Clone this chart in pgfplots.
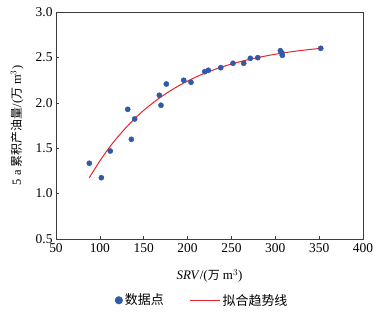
\documentclass[border=0pt]{standalone}
\usepackage{fontspec}
\setmainfont{Liberation Serif}
\newfontfamily\cjk{Noto Sans CJK SC}
\usepackage{pgfplots}
\pgfplotsset{compat=1.18}
\definecolor{ptblue}{RGB}{46,90,168}
\definecolor{fitred}{RGB}{232,36,42}
\definecolor{axgray}{RGB}{60,60,60}
\begin{document}
\begin{tikzpicture}
\path[use as bounding box] (-56bp,-79bp) rectangle (331bp,239bp);
\begin{axis}[
  scale only axis,
  width=307bp, height=227bp,
  xmin=50, xmax=400, ymin=0.5, ymax=3.0,
  xtick={50,100,...,400},
  ytick={0.5,1.0,...,3.0},
  yticklabel style={/pgf/number format/.cd,fixed,fixed zerofill,precision=1},
  /pgf/number format/assume math mode=true,
  tick align=inside,
  xtick pos=left, ytick pos=left,
  major tick length=3bp,
  axis line style={axgray, line width=0.8pt},
  tick style={axgray, line width=0.6pt},
  ticklabel style={font=\fontsize{13.5}{15}\selectfont},
  xticklabel style={yshift=-1.5bp},
  xlabel={\fontsize{13}{15}\selectfont\textit{SRV}/({\cjk\fontsize{12}{14}\selectfont 万} m$^3$)},
  ylabel={\fontsize{12.5}{14}\selectfont 5 a {\cjk\fontsize{12}{14}\selectfont 累积产油量}/({\cjk\fontsize{12}{14}\selectfont 万} m$^3$)},
  xlabel style={at={(axis description cs:0.5,0)}, anchor=north, yshift=-27bp},
  ylabel style={at={(axis description cs:0,0.5)}, anchor=south, yshift=29bp},
  legend style={at={(0.476,-0.27)}, anchor=center, draw=none, fill=none,
    font=\cjk\fontsize{13}{15}\selectfont, legend columns=2,
    /tikz/every even column/.append style={column sep=24bp}},
  legend image code/.code={},
]
\addplot[only marks, mark=*, mark size=2.6bp, color=ptblue,
  legend image code/.code={\fill[ptblue] (0.3cm,0) circle (3.8bp);}]
  coordinates {
  (88,1.334) (101.7,1.175) (111.9,1.469) (131.8,1.928) (135.9,1.598)
  (139.7,1.822) (167.8,2.083) (169.7,1.973) (175.8,2.207) (195.6,2.248)
  (203.9,2.226) (219.6,2.343) (223.7,2.358) (237.8,2.387) (251.8,2.435)
  (264,2.435) (271.6,2.49) (280,2.497) (305.8,2.574) (307.5,2.55)
  (308,2.523) (351.8,2.6)
  };
\addlegendentry{数据点}
\addplot[fitred, line width=1pt, smooth,
  legend image code/.code={\draw[fitred, line width=1.2pt] (0,0) -- (1.05cm,0);}]
  coordinates {
  (88,1.175) (100,1.360) (110,1.497) (120,1.620) (135,1.780) (150,1.917)
  (170,2.067) (190,2.188) (210,2.286) (230,2.364) (250,2.427) (275,2.488)
  (300,2.535) (325,2.571) (352,2.600)
  };
\addlegendentry{拟合趋势线}
\end{axis}
\end{tikzpicture}
\end{document}
